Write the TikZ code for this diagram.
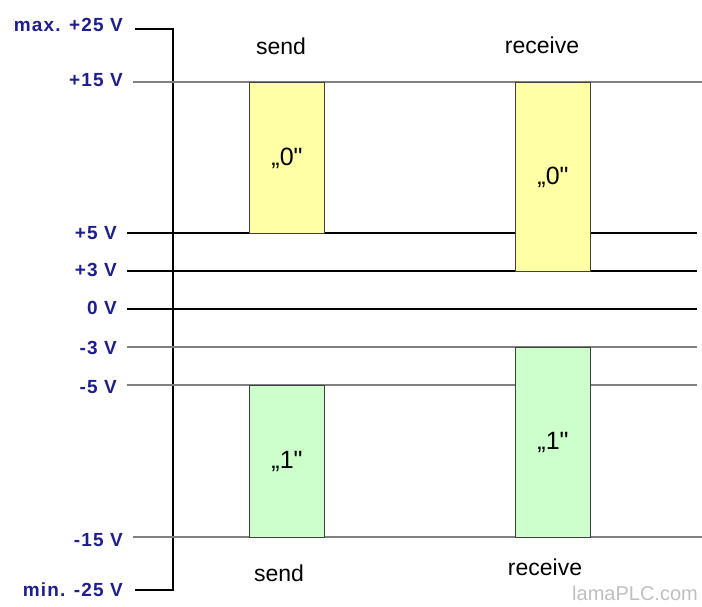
\documentclass[tikz,border=0pt]{standalone}
\usepackage{fontspec}
\setmainfont{Liberation Sans}
\newfontfamily\lblfont[LetterSpace=6]{Liberation Sans}
\newfontfamily\boxfont{Liberation Sans}
\definecolor{lblblue}{HTML}{1E1E8C}
\definecolor{yel}{HTML}{FFFFA6}
\definecolor{grn}{HTML}{CCFFCC}
\definecolor{lgray}{HTML}{808080}
\begin{document}
\begin{tikzpicture}[x=1pt,y=-1pt,
  volt/.style={font=\lblfont\fontsize{19}{21}\selectfont\bfseries, text=lblblue, anchor=east, inner sep=0pt},
  glevel/.style={draw=lgray, line width=1.6pt},
  blevel/.style={draw=black, line width=1.2pt},
  bit/.style={draw=black!75, line width=1pt, minimum width=75pt, anchor=north west, inner sep=0pt, font=\boxfont\fontsize{25}{27}\selectfont},
  captext/.style={font=\fontsize{23}{25}\selectfont, inner sep=0pt}]
\useasboundingbox (0,0) rectangle (702,606);
% axis
\draw[black, line width=1.4pt] (135,29) -- (173,29) -- (173,590) -- (135,590);
% levels
\draw[glevel] (133,82) -- (702,82);
\draw[blevel] (127,233) -- (697,233);
\draw[blevel] (127,271) -- (697,271);
\draw[blevel, line width=1.6pt] (127,309) -- (697,309);
\draw[glevel] (127,347) -- (697,347);
\draw[glevel] (127,385) -- (697,385);
\draw[glevel] (133,537) -- (702,537);
% labels
\node[volt] (l25) at (123,25) {max. +25 V};
\node[volt] (l15) at (123,80) {+15 V};
\node[volt] (l5) at (117,233) {+5 V};
\node[volt] (l3) at (117,270) {+3 V};
\node[volt] (l0) at (117,308) {0 V};
\node[volt] (lm3) at (117,348) {-3 V};
\node[volt] (lm5) at (117,387) {-5 V};
\node[volt] (lm15) at (123,540) {-15 V};
\node[volt] (lm25) at (123,590) {min. -25 V};
% boxes
\node[bit, fill=yel, minimum height=151pt] (s0) at (249,82) {„0"};
\node[bit, fill=grn, minimum height=152pt] (s1) at (249,385) {„1"};
\node[bit, fill=yel, minimum height=189pt] (r0) at (515,82) {„0"};
\node[bit, fill=grn, minimum height=190pt] (r1) at (515,347) {„1"};
% captions
\node[captext] (sendtop) at (281,46) {send};
\node[captext] (rectop) at (542,45) {receive};
\node[captext] (sendbot) at (279,573) {send};
\node[captext] (recbot) at (545,567) {receive};
\node[font=\fontsize{20}{22}\selectfont, text=black!25, inner sep=0pt] (wm) at (635,593) {lamaPLC.com};
\end{tikzpicture}
\end{document}
